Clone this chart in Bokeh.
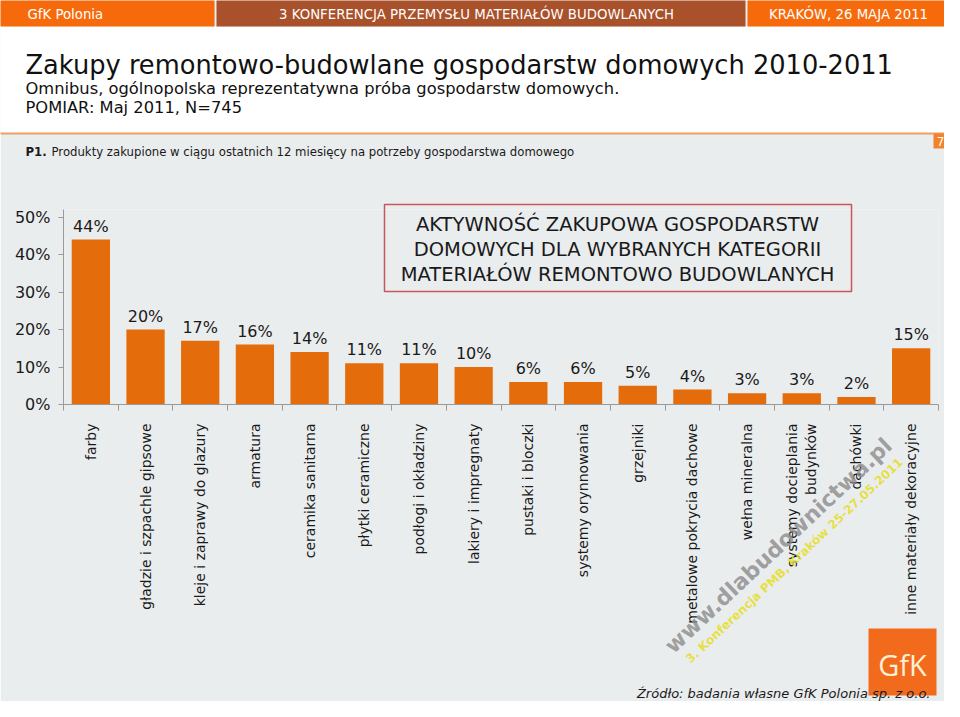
import math
from bokeh.plotting import figure
from bokeh.models import Range1d, LinearAxis, FixedTicker, PrintfTickFormatter, ColumnDataSource
from bokeh.core.properties import value
from bokeh.embed import file_html
from bokeh.resources import INLINE

# ---------------- data ----------------
categories = ["farby", "gładzie i szpachle gipsowe", "kleje i zaprawy do glazury", "armatura",
              "ceramika sanitarna", "płytki ceramiczne", "podłogi i okładziny", "lakiery i impregnaty",
              "pustaki i bloczki", "systemy orynnowania", "grzejniki", "metalowe pokrycia dachowe",
              "wełna mineralna", "systemy docieplania\nbudynków", "dachówki", "inne materiały dekoracyjne"]
shares = [44, 20, 17, 16, 14, 11, 11, 10, 6, 6, 5, 4, 3, 3, 2, 15]
y_ticks = [0, 10, 20, 30, 40, 50]

header_left = "GfK Polonia"
header_mid = "3 KONFERENCJA PRZEMYSŁU MATERIAŁÓW BUDOWLANYCH"
header_right = "KRAKÓW, 26 MAJA 2011"
title = "Zakupy remontowo-budowlane gospodarstw domowych 2010-2011"
subtitle1 = "Omnibus, ogólnopolska reprezentatywna próba gospodarstw domowych."
subtitle2 = "POMIAR: Maj 2011, N=745"
question_id = "P1."
question = "Produkty zakupione w ciągu ostatnich 12 miesięcy na potrzeby gospodarstwa domowego"
box_lines = ["AKTYWNOŚĆ ZAKUPOWA GOSPODARSTW", "DOMOWYCH DLA WYBRANYCH KATEGORII",
             "MATERIAŁÓW REMONTOWO BUDOWLANYCH"]
source_note = "Źródło: badania własne GfK Polonia sp. z o.o."
page_no = "7"

# ---------------- styling ----------------
FONT = "DejaVu Sans"
BG = "#eaedee"
BAR = "#e46c0a"
AX = "#9a9a9a"
TXT = "#1a1a1a"

W, H, OFF = 944, 701, 0          # figure size, offset of figure on the photographed slide
FL, FR, FT, FB = 63, 938, 209, 404  # frame edges in slide pixels

n = len(categories)
idx = list(range(n))

p = figure(width=W, height=H, output_backend="svg", toolbar_location=None,
           x_range=Range1d(-0.5, n - 0.5), y_range=Range1d(0, 52),
           x_axis_type=None, y_axis_type=None,
           min_border_left=FL - OFF, min_border_right=W + OFF - FR,
           min_border_top=FT - OFF, min_border_bottom=H + OFF - FB)
p.outline_line_color = None
p.background_fill_color = BG
p.border_fill_color = BG
p.extra_x_ranges = {"px": Range1d(FL, FR)}
p.extra_y_ranges = {"py": Range1d(FB, FT)}

# ---------------- axes ----------------
yaxis = LinearAxis(ticker=FixedTicker(ticks=y_ticks), formatter=PrintfTickFormatter(format="%d%%"),
                   axis_line_color=AX, major_tick_line_color=AX, major_tick_out=5, major_tick_in=0,
                   minor_tick_line_color=None, major_label_standoff=8,
                   major_label_text_font=FONT, major_label_text_font_size="16px",
                   major_label_text_color=TXT)
p.add_layout(yaxis, "left")

xaxis = LinearAxis(ticker=FixedTicker(ticks=idx, minor_ticks=[i - 0.5 for i in range(n + 1)]),
                   major_label_overrides={i: c for i, c in enumerate(categories)},
                   major_label_orientation=math.pi / 2,
                   axis_line_color=AX, major_tick_line_color=None, major_tick_out=0, major_tick_in=0,
                   minor_tick_line_color=AX, minor_tick_out=6, minor_tick_in=0,
                   major_label_standoff=13,
                   major_label_text_font=FONT, major_label_text_font_size="14px",
                   major_label_text_color=TXT)
p.add_layout(xaxis, "below")

# ---------------- bars ----------------
src = ColumnDataSource(dict(x=idx, v=shares, lbl=[f"{v}%" for v in shares]))
p.vbar(x="x", top="v", width=0.7, source=src, fill_color=BAR, line_color=None)
p.text(x="x", y="v", text="lbl", source=src, text_font=value(FONT), text_font_size=value("16px"),
       text_align="center", text_baseline="bottom", y_offset=-4, text_color=TXT)

# ---------------- slide decorations (pixel coordinates) ----------------
def deco_quad(l, r, t, b, fill, line=None, lw=1):
    p.quad(left=[l], right=[r], top=[t], bottom=[b], fill_color=fill, line_color=line, line_width=lw,
           fill_alpha=1 if fill else 0,
           x_range_name="px", y_range_name="py", level="overlay")

def deco_text(x, y, s, size, color=TXT, align="left", baseline="alphabetic", style="normal",
              angle=0.0, alpha=1.0, font=FONT):
    p.text(x=[x], y=[y], text=[s], text_font=value(font), text_font_size=value(size),
           text_color=color, text_align=align, text_baseline=baseline, text_font_style=style,
           angle=angle, text_alpha=alpha, x_range_name="px", y_range_name="py", level="overlay")

# white title area and header bar
deco_quad(0, 960, 26, 133, "#ffffff")
deco_quad(0, 214, 0, 26, "#f66a0c")
deco_quad(216, 745, 0, 26, "#a9512a")
deco_quad(747, 960, 0, 26, "#f66a0c")
p.segment(x0=[0], x1=[960], y0=[133], y1=[133], line_color="#f0a060", line_width=2,
          x_range_name="px", y_range_name="py", level="overlay")
deco_quad(933, 960, 133, 148, "#f4822a")
deco_text(940, 141, page_no, "12px", color="#ffffff", align="center", baseline="middle")

deco_text(27, 14, header_left, "13.3px", color="#ffffff", baseline="middle")
deco_text(476, 14, header_mid, "13.3px", color="#ffffff", align="center", baseline="middle")
deco_text(848, 14, header_right, "13.3px", color="#ffffff", align="center", baseline="middle")

deco_text(25, 64, title, "25.7px", color="#111111")
deco_text(25, 88, subtitle1, "16.3px", color="#111111")
deco_text(25, 107, subtitle2, "16.3px", color="#111111")

deco_text(25, 151, question_id, "11.7px", style="bold", baseline="middle")
deco_text(51, 151, question, "11.7px", baseline="middle")

# annotation box
deco_quad(384, 851, 204, 291, None, line="#c8575a", lw=1.5)
for k, s in enumerate(box_lines):
    deco_text(617, 224 + 25 * k, s, "19.5px", align="center", baseline="middle")

# watermark
deco_text(778, 545, "www.dlabudownictwa.pl", "22px", color="#8a8a8a", align="center",
          baseline="middle", style="bold", angle=0.755, alpha=0.8)
deco_text(794, 560, "3. Konferencja PMB, Kraków 25-27.05.2011", "12px", color="#e6dd22",
          align="center", baseline="middle", style="bold", angle=0.755, alpha=0.85)

# GfK logo
deco_quad(868, 936, 628, 695, "#f26a1c")
deco_text(902, 664, "GfK", "29px", color="#fdf0d5", align="center", baseline="middle", font="Open Sans")

# source
deco_text(930, 700, source_note, "13px", align="right", baseline="bottom", style="italic")

open("out.html", "w").write(file_html(p, INLINE))
